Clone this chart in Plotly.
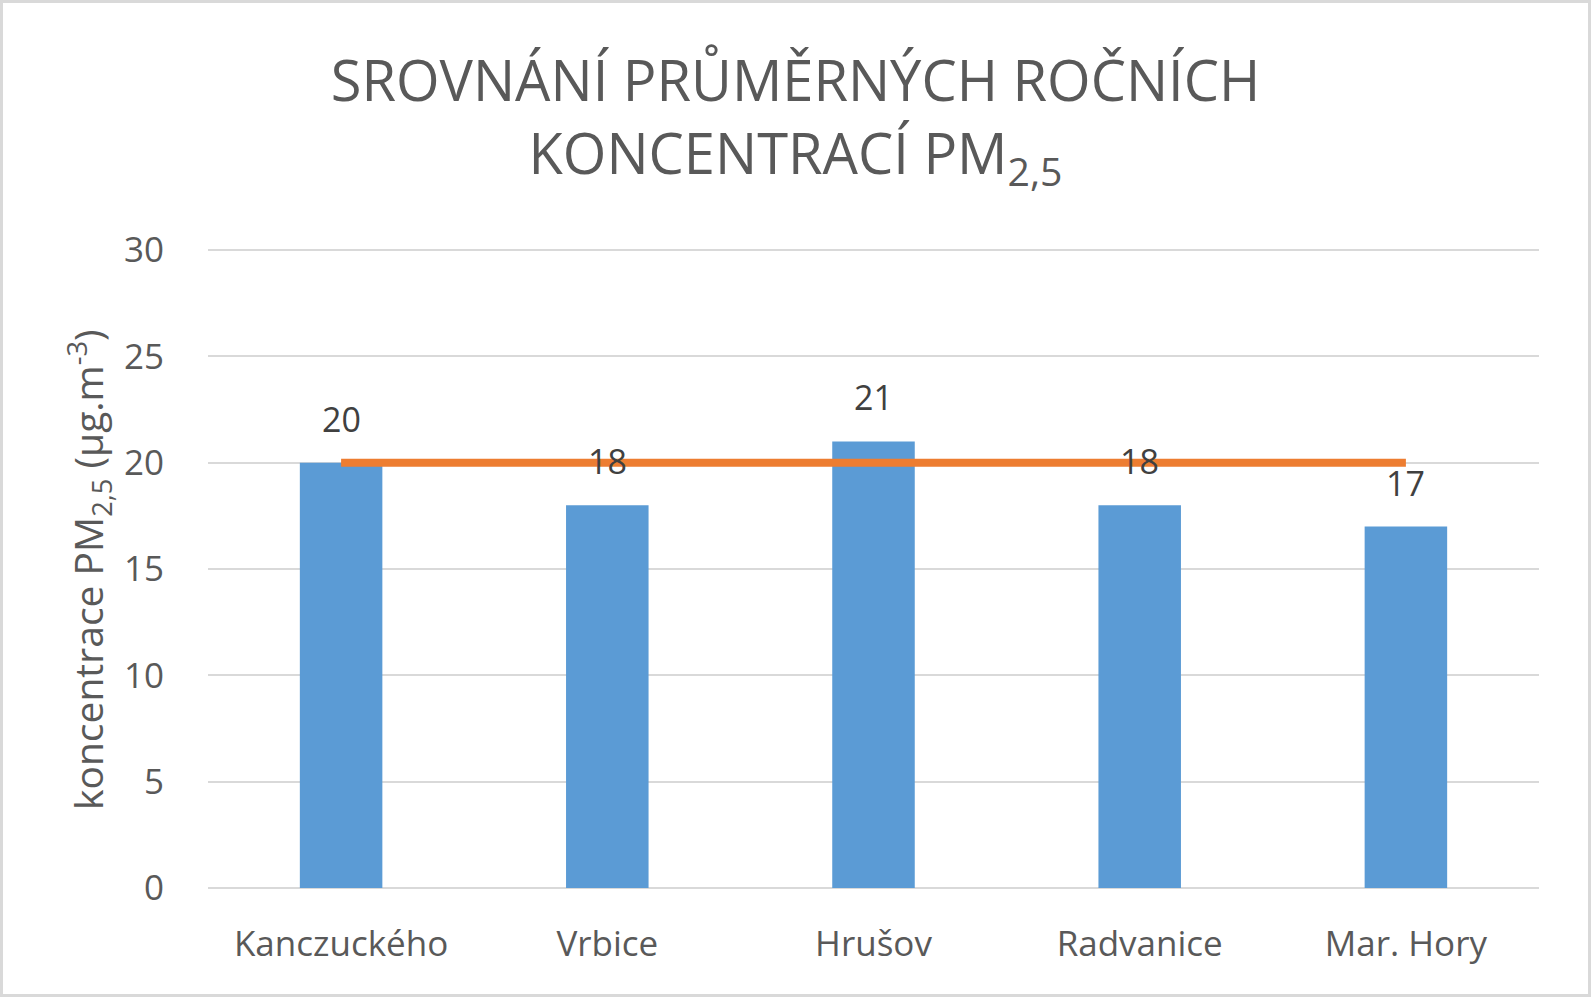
import plotly.graph_objects as go

categories = ["Kanczuckého", "Vrbice", "Hrušov", "Radvanice", "Mar. Hory"]
values = [20, 18, 21, 18, 17]
limit = [20, 20, 20, 20, 20]
y_ticks = [0, 5, 10, 15, 20, 25, 30]

W, H = 1591, 997
ML, MR, MT, MB = 208, 52, 248, 109
PW = W - ML - MR
PH = H - MT - MB

FONT = "Open Sans"
GRAY = "#595959"

fig = go.Figure()
fig.add_trace(go.Bar(
    x=categories, y=values, width=0.31,
    marker=dict(color="#5B9BD5", line=dict(width=0)),
    showlegend=False, hoverinfo="x+y",
))
fig.add_trace(go.Scatter(
    x=categories, y=limit, mode="lines",
    line=dict(color="#ED7D31", width=8),
    showlegend=False,
))

for c, v in zip(categories, values):
    fig.add_annotation(
        x=c, y=v, text=str(v), showarrow=False,
        yshift=44, yanchor="middle", xanchor="center",
        font=dict(family=FONT, size=34, color="#404040"),
    )

# y axis title as rotated annotation
fig.add_annotation(
    xref="paper", yref="paper",
    x=-(ML - 89) / PW, y=(H - MB - 570) / PH,
    text="koncentrace PM<sub>2,5</sub> (µg.m<sup>-3</sup>)",
    textangle=-90, showarrow=False,
    xanchor="center", yanchor="middle",
    font=dict(family=FONT, size=39, color=GRAY),
)

# outer border
fig.add_shape(
    type="rect", xref="paper", yref="paper",
    x0=-(ML - 1.5) / PW, x1=1 + (MR - 1.5) / PW,
    y0=-(MB - 1.5) / PH, y1=1 + (MT - 1.5) / PH,
    line=dict(color="#D9D9D9", width=3), fillcolor="rgba(0,0,0,0)",
    layer="below",
)

fig.update_layout(
    width=W, height=H,
    margin=dict(l=ML, r=MR, t=MT, b=MB, autoexpand=False),
    paper_bgcolor="white", plot_bgcolor="white",
    title=dict(
        text="SROVNÁNÍ PRŮMĚRNÝCH ROČNÍCH<br>KONCENTRACÍ PM<sub>2,5</sub>",
        x=0.5, xanchor="center", xref="container",
        y=1 - 101 / H, yanchor="middle", yref="container",
        font=dict(family=FONT, size=56, color=GRAY),
    ),
    xaxis=dict(
        showgrid=False, showline=False, zeroline=False,
        ticks="outside", ticklen=25, tickcolor="rgba(0,0,0,0)",
        tickfont=dict(family=FONT, size=35, color=GRAY),
    ),
    yaxis=dict(
        range=[0, 30.1], tickvals=y_ticks,
        showgrid=True, gridcolor="#D9D9D9", gridwidth=2,
        zeroline=True, zerolinecolor="#D9D9D9", zerolinewidth=2,
        showline=False,
        ticks="outside", ticklen=36, tickcolor="rgba(0,0,0,0)",
        tickfont=dict(family=FONT, size=35, color=GRAY),
    ),
    bargap=0.69,
)

fig.write_html("out.html", config={"displayModeBar": False},
               post_script="document.body.style.margin='0';")
